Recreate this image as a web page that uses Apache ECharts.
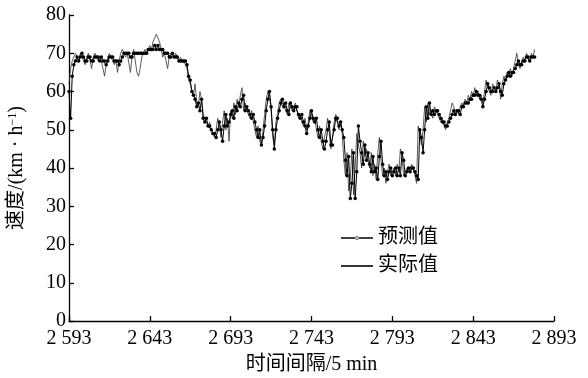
<!DOCTYPE html>
<html>
<head>
<meta charset="utf-8">
<script src="https://cdn.jsdelivr.net/npm/echarts@6/dist/echarts.min.js"></script>
<style>
  html, body {margin: 0; padding: 0; background: #fff;}
  #chart {width: 588px; height: 378px;}
</style>
</head>
<body>
<div id="chart"></div>
<script>
// time interval index of the first point (5 min steps)
const startTime = 2593;

// measured speed, km/h
const actual = [
  62, 66, 68, 69, 70, 69, 68, 70, 69, 68,
  67, 69, 70, 68, 66, 69, 70, 69, 68, 69,
  68, 66, 64, 67, 69, 70, 69, 68, 67, 68,
  65, 68, 70, 71, 70, 69, 70, 70, 65, 69,
  71, 68, 65, 64, 66, 69, 70, 71, 70, 71,
  72, 71, 73, 74, 75, 75, 73, 71, 69, 70,
  70, 66, 69, 70, 70, 69, 70, 69, 68, 69,
  68, 68, 67, 66, 63, 62, 60, 59, 62, 57,
  56, 60, 58, 54, 53, 52, 51, 52, 50, 49,
  48, 50, 53, 51, 48, 52, 55, 50, 53, 47,
  55, 53, 57, 54, 58, 56, 59, 61, 55, 57,
  55, 54, 53, 55, 52, 50, 48, 51, 47, 46,
  50, 54, 58, 60, 59, 55, 48, 46, 52, 54,
  57, 58, 56, 57, 55, 54, 57, 56, 55, 56,
  57, 55, 53, 54, 52, 51, 53, 50, 52, 55,
  54, 52, 53, 50, 48, 51, 47, 45, 48, 50,
  53, 49, 45, 48, 52, 54, 53, 50, 52, 49,
  42, 38, 44, 34, 37, 45, 33, 40, 49, 46,
  44, 40, 47, 43, 45, 42, 40, 44, 38, 41,
  37, 44, 48, 42, 38, 40, 36, 39, 41, 38,
  39, 40, 38, 41, 39, 45, 43, 38, 39, 40,
  39, 40, 41, 40, 38, 36, 51, 49, 46, 50,
  56, 52, 57, 54, 55, 53, 56, 55, 54, 53,
  52, 53, 51, 50, 52, 53, 55, 57, 56, 54,
  55, 54, 56, 57, 56, 58, 57, 59, 58, 60,
  59, 61, 59, 60, 58, 59, 57, 60, 63, 61,
  60, 59, 62, 61, 60, 63, 62, 58, 62, 64,
  63, 65, 64, 66, 64, 66, 68, 70, 67, 66,
  68, 69, 68, 70, 69, 68, 70, 69, 71
];

// model output, km/h
const predicted = [
  60, 53, 64, 67, 68, 69, 68, 69, 70, 69,
  68, 68, 69, 69, 68, 68, 69, 69, 69, 68,
  69, 68, 68, 67, 68, 69, 69, 69, 68, 68,
  68, 67, 68, 69, 70, 70, 70, 70, 69, 69,
  70, 70, 70, 70, 70, 70, 70, 70, 70, 71,
  71, 71, 71, 72, 71, 72, 71, 71, 71, 70,
  70, 70, 69, 69, 70, 69, 69, 69, 68, 68,
  68, 68, 68, 67, 64, 63, 60, 59, 58, 56,
  57, 55, 58, 53, 52, 53, 51, 51, 50, 49,
  49, 48, 50, 52, 50, 47, 51, 54, 51, 52,
  54, 55, 53, 56, 55, 57, 56, 58, 59, 55,
  56, 55, 54, 53, 54, 52, 50, 48, 50, 46,
  48, 51, 55, 58, 60, 56, 50, 45, 50, 53,
  55, 57, 58, 56, 57, 55, 54, 57, 56, 55,
  56, 56, 54, 53, 54, 52, 51, 49, 51, 53,
  55, 53, 52, 53, 50, 48, 50, 47, 45, 47,
  50, 52, 46, 46, 50, 53, 53, 51, 52, 50,
  48, 42, 38, 43, 32, 36, 44, 32, 39, 51,
  47, 44, 41, 46, 42, 44, 41, 39, 43, 39,
  40, 37, 43, 47, 41, 38, 39, 37, 39, 40,
  38, 39, 40, 38, 40, 38, 44, 42, 38, 39,
  40, 39, 40, 40, 39, 38, 37, 50, 48, 44,
  50, 56, 53, 57, 54, 55, 54, 55, 55, 54,
  53, 52, 52, 51, 51, 52, 53, 54, 55, 54,
  55, 55, 54, 56, 56, 57, 57, 57, 58, 58,
  59, 59, 60, 59, 59, 58, 56, 58, 60, 62,
  61, 60, 60, 61, 60, 61, 62, 60, 59, 62,
  63, 64, 65, 64, 65, 65, 66, 67, 68, 67,
  67, 68, 68, 69, 69, 68, 69, 69, 69
];

const seriesNames = ['预测值', '实际值'];

const serif = '"Liberation Serif", "Noto Sans CJK SC", serif';

// legend glyphs: thin line (with a small dot for the prediction)
const iconPred = 'path://M0,0M32,12M0,5.2H32V6.8H0ZM14.3,6A1.7,1.7,0,1,0,17.7,6A1.7,1.7,0,1,0,14.3,6Z';
const iconAct = 'path://M0,0M32,12M0,5.2H32V6.8H0Z';

function fmtThousands(v) {
  return String(v).replace(/(\d)(?=(\d{3})$)/, '$1 ');
}

const predPairs = predicted.map((v, i) => [startTime + i, v]);
const actPairs = actual.map((v, i) => [startTime + i, v]);

const chart = echarts.init(document.getElementById('chart'));
chart.setOption({
  animation: false,
  backgroundColor: '#fff',
  grid: {left: 69, right: 34, top: 15, bottom: 57, containLabel: false, outerBoundsMode: 'none'},
  legend: {
    orient: 'vertical',
    left: 341,
    top: 228,
    padding: 0,
    itemGap: 8,
    itemWidth: 32,
    itemHeight: 12,
    textStyle: {fontFamily: serif, fontSize: 20, color: '#000'},
    data: [
      {name: seriesNames[0], icon: iconPred},
      {name: seriesNames[1], icon: iconAct}
    ]
  },
  xAxis: {
    type: 'value',
    min: 2593,
    max: 2893,
    interval: 50,
    name: '时间间隔/5 min',
    nameLocation: 'middle',
    nameGap: 34,
    nameTextStyle: {fontFamily: serif, fontSize: 20, color: '#000'},
    axisLine: {lineStyle: {color: '#000', width: 1.3}},
    axisTick: {inside: true, length: 5, lineStyle: {color: '#000', width: 1.3}},
    axisLabel: {
      color: '#000', fontFamily: serif, fontSize: 20, margin: 8,
      formatter: fmtThousands
    },
    splitLine: {show: false}
  },
  yAxis: {
    type: 'value',
    min: 0,
    max: 80,
    interval: 10,
    name: '{a|速度/(km · h}{s|−1}{a|)}',
    nameLocation: 'middle',
    nameGap: 42,
    nameTextStyle: {
      rich: {
        a: {fontFamily: serif, fontSize: 20, color: '#000'},
        s: {fontFamily: serif, fontSize: 12, color: '#000', verticalAlign: 'top', padding: [0, 0, 8, 0]}
      }
    },
    axisLine: {show: true, lineStyle: {color: '#000', width: 1.3}},
    axisTick: {show: true, inside: true, length: 5, lineStyle: {color: '#000', width: 1.3}},
    axisLabel: {color: '#000', fontFamily: serif, fontSize: 20, margin: 3},
    splitLine: {show: false}
  },
  series: [
    {
      name: seriesNames[0],
      type: 'line',
      data: predPairs,
      symbol: 'circle',
      symbolSize: 3.5,
      showAllSymbol: true,
      itemStyle: {color: '#000'},
      lineStyle: {color: '#000', width: 1},
      z: 3
    },
    {
      name: seriesNames[1],
      type: 'line',
      data: actPairs,
      symbol: 'none',
      itemStyle: {color: '#000'},
      lineStyle: {color: '#333', width: 0.8},
      z: 2
    }
  ]
});
</script>
</body>
</html>
